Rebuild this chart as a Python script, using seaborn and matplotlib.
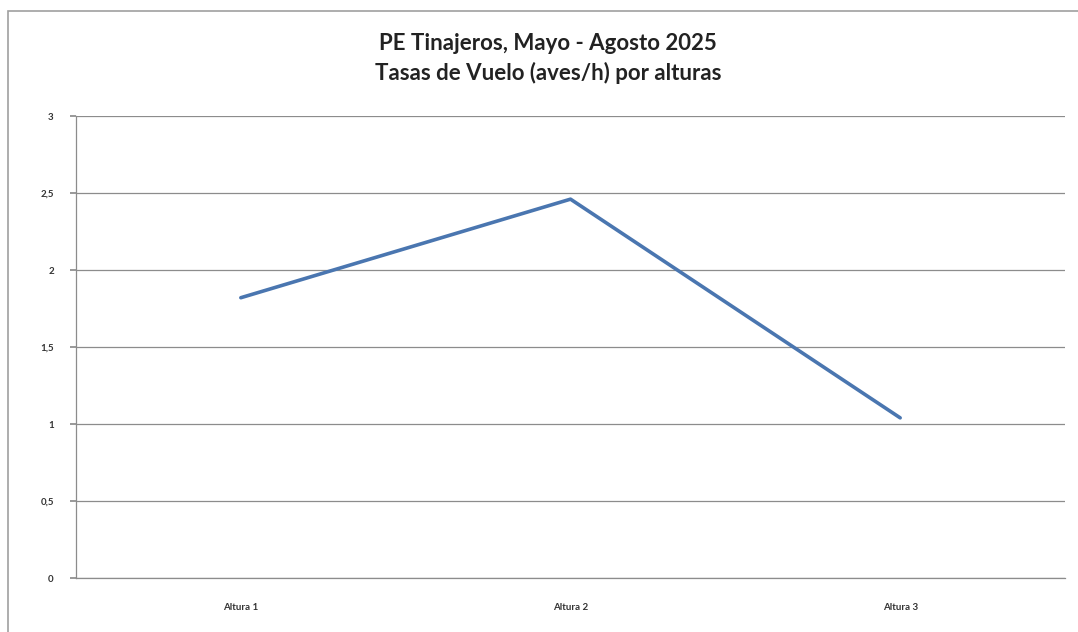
import matplotlib
matplotlib.use("Agg")
import matplotlib.pyplot as plt
import seaborn as sns
import pandas as pd
from matplotlib.patches import Rectangle
from matplotlib.ticker import FuncFormatter

alturas = ["Altura 1", "Altura 2", "Altura 3"]
tasas = [1.82, 2.46, 1.04]
y_ticks = [0, 0.5, 1, 1.5, 2, 2.5, 3]

df = pd.DataFrame({"altura": alturas, "tasa": tasas})

sns.set_theme(style="white")
plt.rcParams["font.family"] = ["Lato", "DejaVu Sans"]

fig = plt.figure(figsize=(10.78, 6.32), dpi=100)
ax = fig.add_axes([76 / 1078, 54 / 632, (1065 - 76) / 1078, (578 - 116) / 632])

sns.lineplot(data=df, x="altura", y="tasa", ax=ax, color="#4a76b0", linewidth=2.6, sort=False)

ax.set_xlim(-0.5, 2.5)
ax.set_ylim(0, 3)
ax.set_yticks(y_ticks)
ax.yaxis.set_major_formatter(FuncFormatter(lambda v, p: f"{v:g}".replace(".", ",")))
ax.grid(axis="y", color="#8c8c8c", linewidth=0.9)
ax.set_axisbelow(True)
for s in ["top", "right"]:
    ax.spines[s].set_visible(False)
ax.spines["left"].set_color("#8c8c8c")
ax.spines["bottom"].set_color("#8c8c8c")
ax.spines["left"].set_linewidth(0.9)
ax.spines["bottom"].set_linewidth(0.9)
ax.tick_params(axis="y", left=True, length=4, color="#8c8c8c", labelsize=7, pad=12, labelcolor="#333333")
ax.tick_params(axis="x", bottom=False, labelsize=7, pad=12, labelcolor="#333333")
for t in ax.get_yticklabels() + ax.get_xticklabels():
    t.set_fontweight("bold")
ax.set_xlabel("")
ax.set_ylabel("")

fig.text(548 / 1078, 1 - 44 / 632, "PE Tinajeros, Mayo - Agosto 2025", ha="center", va="center",
         fontsize=16, fontweight="bold", color="#222222")
fig.text(548 / 1078, 1 - 73 / 632, "Tasas de Vuelo (aves/h) por alturas", ha="center", va="center",
         fontsize=16, fontweight="bold", color="#222222")

fig.patches.append(Rectangle((8 / 1078, -0.05), 1.1, 1 - 11 / 632 + 0.05, transform=fig.transFigure,
                             fill=False, edgecolor="#a0a0a0", linewidth=1.2))

fig.savefig("out.png", dpi=100)
